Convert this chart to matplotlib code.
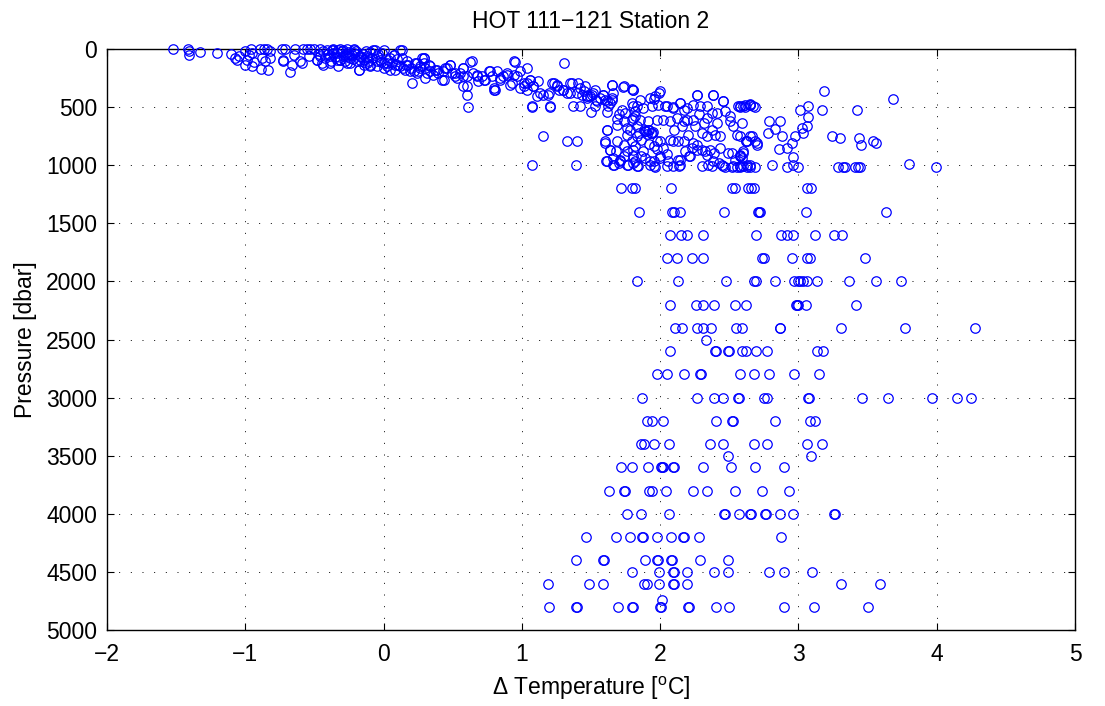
import matplotlib
matplotlib.use('Agg')
import matplotlib.pyplot as plt
import numpy as np

plt.rcParams['font.family'] = ['Liberation Sans', 'DejaVu Sans']
plt.rcParams['mathtext.fontset'] = 'custom'
plt.rcParams['mathtext.rm'] = 'Liberation Sans'
plt.rcParams['mathtext.it'] = 'Liberation Sans:italic'

# (delta T [degC], pressure [dbar]) pairs, upper ocean
surface = np.array([
    [-1.524, 2], [-1.415, 0], [-1.410, 19], [-1.405, 48], [-1.326, 25], [-1.205, 34],
    [-1.104, 42], [-1.073, 77], [-1.061, 97], [-1.042, 62], [-1.005, 19], [-1.005, 134],
    [-0.988, 91], [-0.976, 48], [-0.960, 0], [-0.952, 34], [-0.935, 114], [-0.952, 149],
    [-0.892, 0], [-0.880, 77], [-0.885, 172], [-0.868, 0], [-0.856, 106], [-0.832, 183],
    [-0.820, 77], [-0.820, 19], [-0.844, 0], [-0.735, 0], [-0.711, 0], [-0.728, 91],
    [-0.728, 106], [-0.675, 197], [-0.663, 134], [-0.651, 48], [-0.639, 0], [-0.603, 106],
    [-0.591, 120], [-0.586, 0], [-0.555, 0], [-0.506, 0], [-0.482, 91], [-0.458, 62],
    [-0.439, 134], [-0.386, 120], [-0.362, 5], [-0.338, 91],
    [-0.531, 2], [-0.458, 0], [-0.410, 5], [-0.362, 0], [-0.313, 0], [-0.265, 0],
    [-0.217, 0], [-0.482, 91], [-0.446, 120], [-0.386, 62], [-0.362, 34], [-0.326, 149],
    [-0.313, 91], [-0.277, 48], [-0.265, 120], [-0.241, 77], [-0.217, 34], [-0.193, 106],
    [-0.181, 177], [-0.169, 62], [-0.145, 91], [-0.121, 120], [-0.097, 134], [-0.073, 5],
    [-0.049, 149], [-0.024, 91], [0.000, 5], [0.000, 120], [0.024, 149], [0.048, 77],
    [0.072, 48], [0.084, 177], [0.108, 134], [0.132, 5], [0.144, 163], [0.168, 106],
    [0.193, 192], [0.205, 292], [0.229, 120], [0.241, 206], [0.265, 149], [0.289, 77],
    [0.301, 249],
    [-0.374, 5], [-0.338, 34], [-0.314, 91], [-0.290, 5], [-0.265, 62], [-0.241, 120],
    [-0.217, 5], [-0.181, 177], [-0.169, 91], [-0.145, 134], [-0.121, 77], [-0.097, 149],
    [-0.061, 5], [-0.049, 106], [-0.012, 34], [0.000, 163], [0.024, 120], [0.048, 177],
    [0.072, 48], [0.084, 134], [0.120, 5], [0.132, 77], [0.156, 177], [0.180, 134],
    [0.217, 192], [0.241, 120], [0.265, 163], [0.289, 77], [0.313, 206], [0.337, 149],
    [0.361, 220], [0.385, 177], [0.434, 263], [0.446, 163], [0.482, 134], [0.518, 206],
    [0.530, 249], [0.578, 163], [0.578, 235], [0.602, 321], [0.626, 114], [0.675, 220],
    [0.723, 263], [0.771, 192], [0.795, 349], [0.843, 249], [0.891, 220], [0.928, 292],
    [0.988, 192], [1.012, 321], [1.036, 349], [1.060, 263],
    [-0.300, 20], [-0.250, 40], [-0.200, 15], [-0.150, 45], [-0.100, 30], [-0.050, 60],
    [-0.350, 70], [-0.280, 100], [-0.220, 90], [-0.120, 60], [-0.400, 40], [-0.440, 20],
    [-0.330, 10], [-0.290, 60], [-0.260, 25], [-0.230, 55], [-0.190, 40], [-0.160, 70],
    [-0.130, 20], [-0.110, 100], [-0.080, 80], [-0.040, 40], [-0.020, 110], [0.030, 95],
    [0.060, 120], [0.100, 90], [0.120, 150], [0.160, 140], [0.200, 160], [0.250, 190],
    [-0.420, 80], [-0.380, 100], [-0.470, 40], [-0.540, 60],
])

# thermocline slope, 100-450 dbar
slope = np.array([
    [0.277, 77], [0.289, 120], [0.301, 163], [0.325, 134], [0.337, 192], [0.373, 177],
    [0.397, 206], [0.421, 263], [0.433, 192], [0.457, 163], [0.482, 134], [0.494, 206],
    [0.518, 235], [0.554, 206], [0.578, 163], [0.578, 321], [0.602, 392], [0.602, 235],
    [0.638, 106], [0.650, 206], [0.674, 235], [0.686, 278], [0.711, 235], [0.735, 263],
    [0.759, 192], [0.783, 235], [0.795, 335], [0.807, 349], [0.819, 192], [0.843, 263],
    [0.867, 235], [0.891, 206], [0.915, 306], [0.940, 220], [0.964, 235], [0.988, 335],
    [1.012, 292], [1.036, 163], [1.060, 263], [1.084, 321], [1.108, 407], [1.120, 278],
    [1.156, 392], [1.193, 378], [1.217, 292], [1.253, 306], [1.265, 349], [1.301, 349],
    [1.325, 378], [1.361, 292], [1.397, 378], [1.422, 335], [1.446, 364], [1.470, 407],
    [1.494, 407], [1.518, 378], [1.542, 450], [1.566, 421], [1.590, 392], [1.614, 450],
    [1.651, 306], [1.730, 326], [1.802, 349], [0.944, 104], [0.950, 108], [1.308, 120],
    [0.609, 499], [1.072, 499], [1.156, 745], [1.200, 499],
    [1.036, 292], [1.084, 321], [1.132, 378], [1.192, 392], [1.229, 292], [1.253, 321],
    [1.301, 349], [1.349, 292], [1.349, 378], [1.409, 292], [1.434, 392], [1.458, 321],
    [1.470, 407], [1.506, 392], [1.530, 349], [1.590, 392], [1.602, 435], [1.638, 464],
    [1.651, 421],
])

# 400-1050 dbar cluster
cluster = np.array([
    [1.072, 493], [1.200, 493], [1.369, 493], [1.421, 493], [1.499, 545], [1.530, 493],
    [1.537, 435], [1.470, 421], [1.619, 545], [1.626, 493], [1.651, 435], [1.662, 378],
    [1.651, 306], [1.735, 321], [1.795, 343], [1.855, 435], [1.619, 694], [1.687, 601],
    [1.687, 651], [1.723, 521], [1.747, 550], [1.759, 679], [1.795, 607], [1.819, 536],
    [1.807, 493], [1.819, 579], [1.831, 665], [1.602, 794], [1.638, 866], [1.687, 794],
    [1.759, 737], [1.795, 794], [1.819, 837], [1.711, 952], [1.699, 980], [1.735, 917],
    [1.759, 880], [1.807, 923], [1.831, 1009], [1.771, 995], [1.663, 995], [1.610, 966],
    [1.072, 995], [1.393, 995], [1.325, 794], [1.402, 794],
    [1.807, 349], [1.928, 421], [1.964, 407], [1.995, 378], [2.265, 392], [2.381, 392],
    [2.453, 450], [1.795, 464], [1.831, 493], [1.879, 507], [1.940, 493], [1.988, 478],
    [2.036, 493], [2.096, 507], [2.145, 464], [2.193, 507], [2.241, 478], [2.289, 493],
    [2.338, 493], [2.374, 550], [2.410, 550], [2.470, 536], [2.506, 579], [2.566, 493],
    [2.615, 478], [2.651, 478], [1.807, 593], [1.855, 607], [1.915, 622], [1.976, 607],
    [2.024, 607], [2.072, 622], [2.120, 593], [2.169, 622], [2.241, 607], [2.253, 665],
    [2.338, 593], [2.410, 636], [2.506, 622], [2.530, 665], [2.591, 636],
    [1.880, 693], [1.900, 708], [1.920, 700], [1.935, 722], [1.950, 712], [1.905, 730],
    [1.831, 751], [1.892, 708], [1.915, 694], [1.940, 722], [1.976, 794], [2.000, 794],
    [2.072, 780], [2.096, 794], [2.132, 794], [2.169, 794], [2.241, 808], [2.301, 722],
    [2.338, 751], [2.374, 694], [2.398, 737], [2.434, 751], [2.555, 737], [2.627, 794],
    [1.807, 866], [1.879, 880], [1.952, 837], [2.024, 851], [2.229, 851], [2.265, 866],
    [2.325, 880], [2.362, 866], [2.386, 894], [2.494, 894], [2.578, 923], [2.602, 880],
    [1.819, 966], [1.892, 937], [1.952, 966], [2.048, 1009], [2.096, 1009], [2.145, 995],
    [2.132, 952], [2.205, 923], [2.301, 1009], [2.349, 995], [2.374, 1009], [2.422, 980],
    [2.470, 1015], [2.518, 1015], [2.555, 1015], [2.578, 1009], [2.627, 995], [1.928, 995],
    [1.964, 1015], [2.000, 925], [2.217, 917],
    [2.000, 364], [1.952, 430], [2.048, 493], [2.096, 498], [2.145, 464], [2.169, 521],
    [2.193, 607], [2.265, 392], [2.385, 392], [2.458, 450], [2.578, 498], [2.615, 498],
    [2.651, 478], [2.265, 823], [2.301, 866], [2.338, 909], [2.385, 966], [2.434, 851],
    [2.446, 995], [2.518, 894], [2.542, 952], [2.578, 923], [2.602, 1009], [2.530, 1009],
    [2.458, 1009], [2.133, 1009], [2.145, 952], [1.711, 966], [1.759, 995], [1.807, 981],
    [1.843, 1009], [1.928, 966], [1.952, 1009], [2.000, 938],
    [1.614, 694], [1.602, 808], [1.638, 866], [1.662, 937], [1.614, 966], [1.658, 995],
    [2.578, 487], [2.602, 487], [2.650, 470], [2.670, 487], [2.686, 499], [3.012, 527],
    [3.072, 487], [3.173, 527], [3.185, 364], [3.422, 522], [3.682, 427], [2.790, 622],
    [2.867, 622], [2.831, 688], [2.783, 722], [2.879, 745], [3.072, 585], [3.060, 659],
    [3.024, 679], [3.036, 722], [2.976, 751], [2.952, 808], [2.915, 852], [2.862, 860],
    [2.964, 929], [2.578, 751], [2.621, 794], [2.650, 751], [2.698, 808], [2.578, 909],
    [2.602, 894], [2.590, 938], [3.241, 751], [3.301, 765], [3.441, 765], [3.451, 823],
    [3.542, 794], [3.561, 808], [2.812, 995], [2.915, 1015], [2.964, 995], [3.000, 1015],
    [3.289, 1015], [3.325, 1015], [3.337, 1015], [3.410, 1015], [3.434, 1015],
    [3.446, 1015], [3.802, 989], [3.995, 1015], [2.626, 1015], [2.650, 1015],
    [2.686, 1015], [2.650, 995], [2.578, 1015], [2.663, 745], [2.622, 794], [2.687, 794],
    [2.699, 823],
    [1.700, 560], [1.740, 620], [1.780, 700], [1.850, 720], [1.860, 780], [1.920, 820],
    [1.980, 860], [2.050, 900], [2.100, 700], [2.160, 660], [2.200, 740], [2.280, 560],
    [1.680, 880], [1.740, 830], [1.860, 920], [2.060, 960], [2.180, 880], [2.320, 640],
])

# bottle depths below 1000 dbar and the delta T found at each
deep_p = [1200, 1400, 1600, 1800, 2000, 2200, 2400, 2500, 2600, 2800, 3000, 3200,
          3400, 3500, 3600, 3800, 4000, 4200, 4400, 4500, 4600, 4740, 4800]
deep_t = [
    [1.718, 1.800, 1.819, 2.079, 2.523, 2.542, 2.638, 2.656, 2.682, 3.061, 3.092],
    [1.850, 2.089, 2.101, 2.140, 2.463, 2.711, 2.715, 2.723, 3.051, 3.632],
    [2.072, 2.150, 2.193, 2.311, 2.692, 2.875, 2.920, 2.964, 3.121, 3.260, 3.314],
    [2.051, 2.121, 2.231, 2.311, 2.740, 2.748, 2.952, 3.061, 3.080, 3.482],
    [1.829, 2.132, 2.479, 2.680, 2.690, 2.832, 2.969, 3.000, 3.012, 3.032, 3.061,
     3.133, 3.362, 3.562, 3.743],
    [2.072, 2.260, 2.313, 2.390, 2.542, 2.622, 2.985, 2.992, 3.000, 3.053, 3.415],
    [2.108, 2.157, 2.265, 2.313, 2.369, 2.550, 2.595, 2.863, 2.868, 3.309, 3.772, 4.273],
    [2.330],
    [2.072, 2.395, 2.402, 2.490, 2.498, 2.591, 2.622, 2.692, 2.772, 3.133, 3.181],
    [1.978, 2.051, 2.169, 2.285, 2.293, 2.578, 2.680, 2.790, 2.971, 3.152],
    [1.870, 2.263, 2.390, 2.453, 2.560, 2.568, 2.754, 2.772, 3.068, 3.076, 3.461,
     3.651, 3.965, 4.145, 4.251],
    [1.904, 1.940, 2.020, 2.403, 2.522, 2.530, 2.832, 3.085, 3.121],
    [1.860, 1.886, 1.959, 2.063, 2.362, 2.453, 2.682, 2.772, 3.061, 3.171],
    [2.492, 3.092],
    [1.718, 1.800, 1.911, 2.005, 2.013, 2.020, 2.092, 2.100, 2.311, 2.511, 2.689, 2.899],
    [1.631, 1.738, 1.746, 1.920, 1.940, 2.041, 2.241, 2.342, 2.542, 2.735, 2.933],
    [1.761, 1.860, 2.063, 2.459, 2.467, 2.571, 2.652, 2.660, 2.757, 2.765, 2.863,
     2.959, 3.256, 3.264],
    [1.467, 1.680, 1.783, 1.871, 1.879, 1.978, 2.080, 2.167, 2.175, 2.282, 2.873],
    [1.390, 1.586, 1.594, 1.892, 1.979, 1.987, 2.081, 2.089, 2.289, 2.492],
    [1.793, 1.995, 2.090, 2.098, 2.193, 2.390, 2.494, 2.790, 2.892, 3.101],
    [1.192, 1.489, 1.590, 1.884, 1.904, 1.995, 2.090, 2.098, 2.193, 3.309, 3.593],
    [2.012],
    [1.197, 1.394, 1.402, 1.698, 1.799, 1.807, 1.996, 2.004, 2.201, 2.209, 2.403,
     2.501, 2.892, 3.109, 3.502],
]

x_ticks = [-2, -1, 0, 1, 2, 3, 4, 5]
y_ticks = list(range(0, 5001, 500))

deep_tt = np.concatenate([np.array(t) for t in deep_t])
deep_pp = np.concatenate([np.full(len(t), p) for t, p in zip(deep_t, deep_p)])

fig = plt.figure(figsize=(11.05, 7.06), dpi=100)
ax = fig.add_axes([0.0968, 0.1076, 0.8761, 0.8230])

marker_kw = dict(ls='none', marker='o', mfc='none', mec='#0000ff', ms=6.8, mew=0.9,
                 clip_on=False, zorder=3)
for arr in (surface, slope, cluster):
    ax.plot(arr[:, 0], arr[:, 1], **marker_kw)
ax.plot(deep_tt, deep_pp, **marker_kw)

ax.set_xlim(-2, 5)
ax.set_ylim(5000, 0)
ax.set_xticks(x_ticks)
ax.set_yticks(y_ticks)
ax.set_xticklabels([str(v).replace('-', '\u2212') for v in x_ticks])
ax.tick_params(direction='in', length=5, width=0.8, top=True, right=True,
               labelsize=16.5)
ax.tick_params(axis='x', pad=9)
ax.tick_params(axis='y', pad=7)
ax.grid(True, color='k', linestyle=(0, (1, 11)), linewidth=0.7)
for s in ax.spines.values():
    s.set_linewidth(1.0)

ax.set_title('HOT 111\u2212121 Station 2', fontsize=16.5, pad=15)
ax.set_xlabel('\u0394 Temperature [$^{\\mathrm{o}}$C]', fontsize=16.5, labelpad=7)
ax.set_ylabel('Pressure [dbar]', fontsize=16.5, labelpad=7)

fig.savefig('out.png', dpi=100)
